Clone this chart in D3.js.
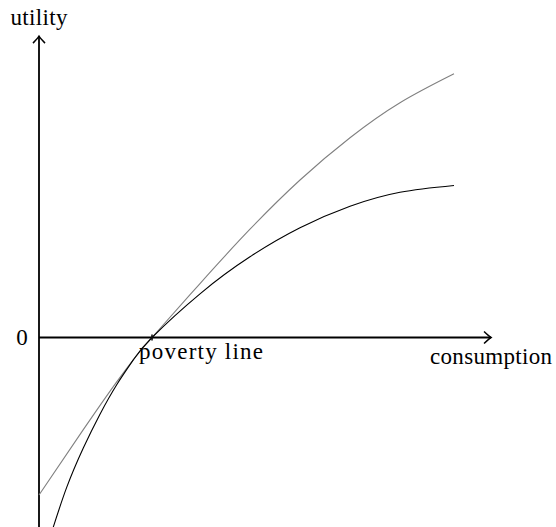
<!DOCTYPE html>
<html>
  <head>
    <meta charset="utf-8" />
    <script src="https://d3js.org/d3.v7.min.js"></script>
    <style>
      body { margin: 0; background: #ffffff; }
      .axis { stroke: #000000; stroke-width: 1.8; fill: none; }
      .curve { fill: none; stroke-width: 1.1; }
      text { font-family: "Liberation Serif", "DejaVu Serif", serif; font-size: 23px; fill: #000000; }
    </style>
  </head>
  <body>
    <svg width="556" height="527"></svg>

    <script type="text/javascript">

    // data (consumption, utility)
    var povertyLine = 3;
    var lowCons  = [0.345, 0.735, 1.176, 1.619, 2.063, 2.503, 3, 4.274, 5.601, 6.929, 8.256, 9.583, 11.017];
    var lowUtil  = [-5.14, -3.98, -2.934, -2.036, -1.253, -0.595, 0, 1.16, 2.142, 2.912, 3.483, 3.854, 4.035];
    var grayCons = [0, 1.176, 2.063, 2.594, 3, 4.274, 5.601, 6.929, 8.256, 9.583, 11.017];
    var grayUtil = [-4.18, -2.447, -1.178, -0.475, 0, 1.433, 2.874, 4.181, 5.303, 6.232, 7.0];
    var yTicks = ["0"];

    var svg = d3.select("svg");

    var x = d3.scaleLinear().domain([0, 12]).range([39, 39 + 12 * 37.67]);
    var y = d3.scaleLinear().domain([0, 8]).range([337.5, 337.5 - 8 * 37.67]);

    // axes
    svg.append("line").attr("class", "axis")
      .attr("x1", x(0)).attr("y1", y(0)).attr("x2", x(12)).attr("y2", y(0));
    svg.append("line").attr("class", "axis")
      .attr("x1", x(0)).attr("y1", y(-5.4)).attr("x2", x(0)).attr("y2", y(8));

    function arrowHead(px, py, angle) {
      svg.append("path")
        .attr("d", "M-7,-6 Q-2,-1.2 0,0 Q-2,1.2 -7,6")
        .attr("transform", "translate(" + px + "," + py + ") rotate(" + angle + ")")
        .style("fill", "none").style("stroke", "#000").style("stroke-width", 1.5);
    }
    arrowHead(x(12), y(0), 0);
    arrowHead(x(0), y(8), -90);

    // poverty line tick
    svg.append("line").attr("class", "axis")
      .attr("x1", x(povertyLine)).attr("y1", y(0) - 3)
      .attr("x2", x(povertyLine)).attr("y2", y(0) + 3)
      .style("stroke-width", 1.5);

    var line = d3.line()
      .x(function(d) { return x(d[0]); })
      .y(function(d) { return y(d[1]); })
      .curve(d3.curveNatural);

    svg.append("path").attr("class", "curve")
      .attr("d", line(d3.zip(grayCons, grayUtil)))
      .style("stroke", "#808080");

    svg.append("path").attr("class", "curve")
      .attr("d", line(d3.zip(lowCons, lowUtil)))
      .style("stroke", "#000000");

    // labels
    svg.append("text").attr("x", x(0)).attr("y", 25)
      .attr("text-anchor", "middle")
      .attr("textLength", 57).attr("lengthAdjust", "spacing")
      .text("utility");
    svg.selectAll(".ytick").data(yTicks).enter().append("text")
      .attr("class", "ytick")
      .attr("x", x(0) - 17).attr("y", function(d) { return y(+d) + 7; })
      .attr("text-anchor", "middle").text(function(d) { return d; });
    svg.append("text").attr("x", x(povertyLine) - 13).attr("y", y(0) + 21.5)
      .attr("textLength", 124).attr("lengthAdjust", "spacing")
      .text("poverty line");
    svg.append("text").attr("x", 430).attr("y", y(0) + 26)
      .attr("textLength", 122).attr("lengthAdjust", "spacing")
      .text("consumption");

    </script>
  </body>
</html>
